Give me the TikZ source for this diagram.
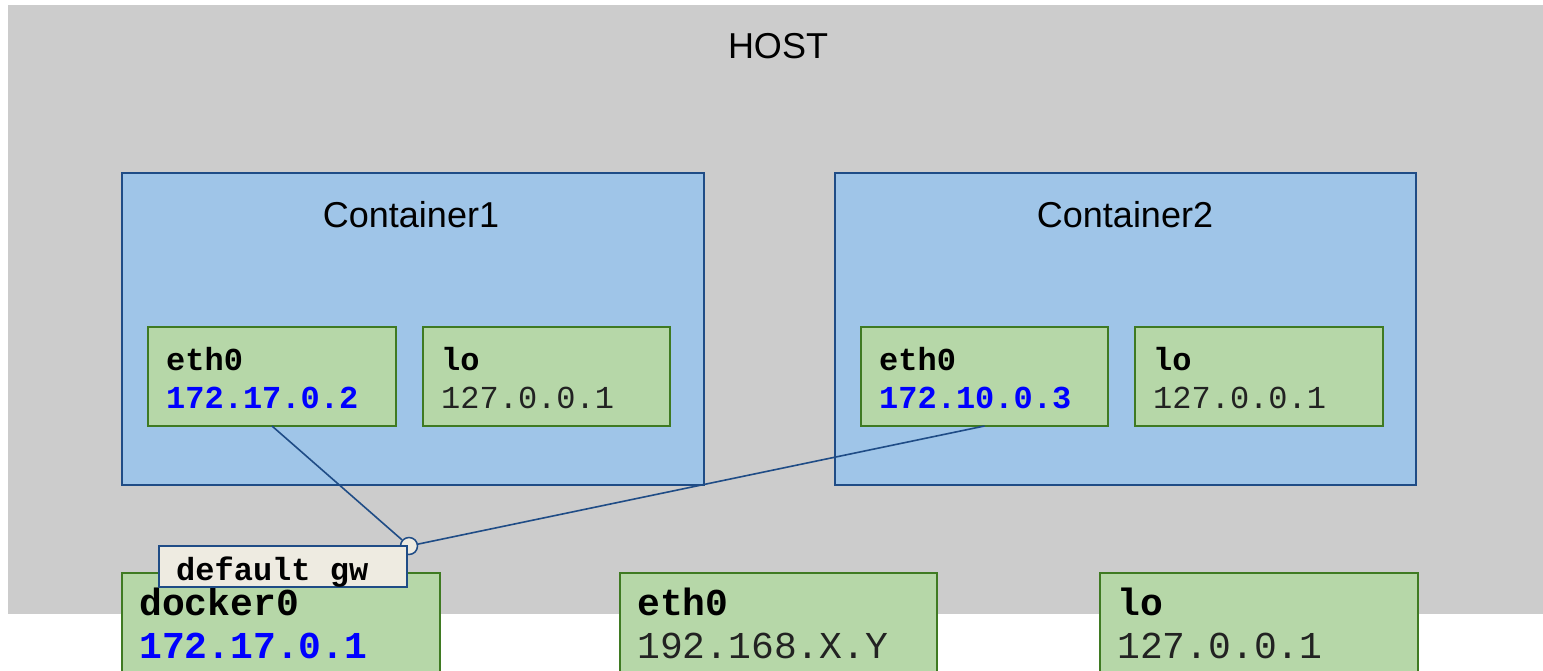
\documentclass[tikz,border=0pt]{standalone}
\usepackage{fontspec}
\setmainfont{Liberation Sans}
\setmonofont{Liberation Mono}
\definecolor{hostgray}{HTML}{CCCCCC}
\definecolor{contfill}{HTML}{9FC5E8}
\definecolor{contline}{HTML}{1F4C86}
\definecolor{iffill}{HTML}{B6D7A8}
\definecolor{ifline}{HTML}{3F7A22}
\definecolor{gwfill}{HTML}{EEEBE1}
\definecolor{ipblue}{HTML}{0000FF}
\definecolor{lighttxt}{HTML}{222222}
\begin{document}
\begin{tikzpicture}[x=1pt,y=-1pt,
  box/.style={draw, rectangle, inner sep=0pt, outer sep=0pt, anchor=north west},
  contbox/.style={box, fill=contfill, draw=contline, line width=1.5pt},
  ifbox/.style={box, fill=iffill, draw=ifline, line width=1.5pt},
  big/.style={font=\fontsize{36}{40}\selectfont},
  lbl/.style={anchor=base west, inner sep=0pt},
  ifname/.style={lbl, font=\ttfamily\bfseries\fontsize{32}{36}\selectfont},
  ifip/.style={lbl, font=\ttfamily\bfseries\fontsize{32}{36}\selectfont, text=ipblue},
  iflo/.style={lbl, font=\ttfamily\fontsize{32}{36}\selectfont, text=lighttxt},
  hname/.style={lbl, font=\ttfamily\bfseries\fontsize{38}{42}\selectfont},
  hip/.style={lbl, font=\ttfamily\bfseries\fontsize{38}{42}\selectfont, text=ipblue},
  hlo/.style={lbl, font=\ttfamily\fontsize{38}{42}\selectfont, text=lighttxt},
  link/.style={draw=contline, line width=1.6pt},
]
\useasboundingbox (0,0) rectangle (1543,671);
\fill[white] (0,0) rectangle (1543,671);
% host
\node[box, draw=none, fill=hostgray, minimum width=1535pt, minimum height=609pt] (host) at (8,5) {};
\node[big, anchor=base] (hostt) at (778,59) {HOST};
% containers
\node[contbox, minimum width=582pt, minimum height=312pt] (c1) at (122,173) {};
\node[big, anchor=base] (c1t) at (411,228) {Container1};
\node[contbox, minimum width=581pt, minimum height=312pt] (c2) at (835,173) {};
\node[big, anchor=base] (c2t) at (1125,228) {Container2};
% container interfaces
\node[ifbox, minimum width=248pt, minimum height=99pt] (c1eth) at (148,327) {};
\node[ifname] (c1etht) at (166,370) {eth0};
\node[ifip] (c1ethip) at (166,408) {172.17.0.2};
\node[ifbox, minimum width=247pt, minimum height=99pt] (c1lo) at (423,327) {};
\node[ifname] (c1lot) at (441,370) {lo};
\node[iflo] (c1loip) at (441,408) {127.0.0.1};
\node[ifbox, minimum width=247pt, minimum height=99pt] (c2eth) at (861,327) {};
\node[ifname] (c2etht) at (879,370) {eth0};
\node[ifip] (c2ethip) at (879,408) {172.10.0.3};
\node[ifbox, minimum width=248pt, minimum height=99pt] (c2lo) at (1135,327) {};
\node[ifname] (c2lot) at (1153,370) {lo};
\node[iflo] (c2loip) at (1153,408) {127.0.0.1};
% gateway point and links
\node[circle, draw=contline, fill=gwfill, line width=1.5pt, minimum size=17pt, inner sep=0pt] (gw) at (409,546) {};
\draw[link] (c1eth.south) -- (gw);
\draw[link] (c2eth.south) -- (gw);
% host interfaces
\node[ifbox, minimum width=318pt, minimum height=120pt] (d0) at (122,573) {};
\node[hname] (d0t) at (139,615) {docker0};
\node[hip] (d0ip) at (139,658) {172.17.0.1};
\node[ifbox, minimum width=317pt, minimum height=120pt] (heth) at (620,573) {};
\node[hname] (letht) at (637,615) {eth0};
\node[hlo] (hethip) at (637,658) {192.168.X.Y};
\node[ifbox, minimum width=318pt, minimum height=120pt] (hlo) at (1100,573) {};
\node[hname] (hlot) at (1117,615) {lo};
\node[hlo] (hloip) at (1117,658) {127.0.0.1};
% default gw label
\node[box, fill=gwfill, draw=contline, line width=1.5pt, minimum width=248pt, minimum height=41pt] (gwl) at (159,546) {};
\node[lbl, font=\ttfamily\bfseries\fontsize{32}{34}\selectfont] (gwlt) at (176,580) {default gw};
\end{tikzpicture}
\end{document}
